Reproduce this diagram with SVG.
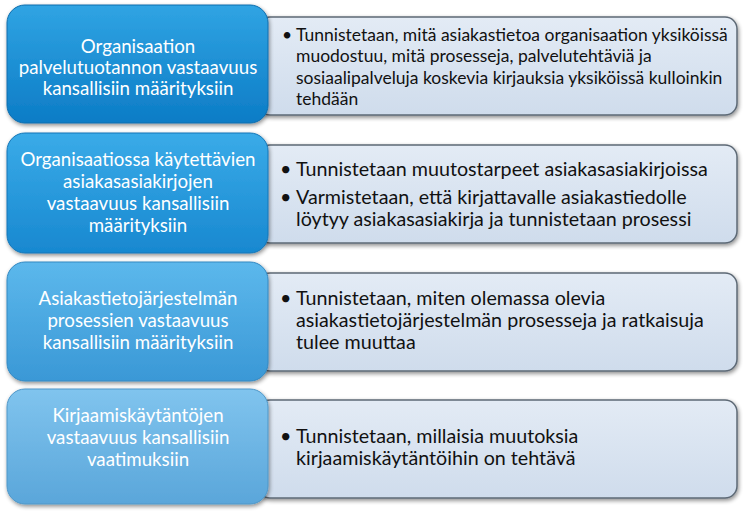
<svg xmlns="http://www.w3.org/2000/svg" width="744" height="515" viewBox="0 0 744 515">
<defs>
<style>
.lt{font-family:Lato,"Liberation Sans",sans-serif;font-size:18.7px;fill:#ffffff;text-anchor:middle}
.rt{font-family:Lato,"Liberation Sans",sans-serif;font-size:19.7px;fill:#111111}
.r1{font-size:17.5px}
.rb{fill:url(#gr);stroke:#5d6975;stroke-width:1.5}
.bs{stroke-width:1}
</style>
<linearGradient id="gr" x1="0" y1="0" x2="0" y2="1">
<stop offset="0" stop-color="#e3ebf5"/>
<stop offset="1" stop-color="#cfdcec"/>
</linearGradient>
<linearGradient id="b1" x1="0" y1="0" x2="0" y2="1">
<stop offset="0" stop-color="#30a4e3"/>
<stop offset="1" stop-color="#0c7cc6"/>
</linearGradient>
<linearGradient id="b2" x1="0" y1="0" x2="0" y2="1">
<stop offset="0" stop-color="#3aabe8"/>
<stop offset="1" stop-color="#1888d0"/>
</linearGradient>
<linearGradient id="b3" x1="0" y1="0" x2="0" y2="1">
<stop offset="0" stop-color="#5cb8ec"/>
<stop offset="1" stop-color="#3a98d6"/>
</linearGradient>
<linearGradient id="b4" x1="0" y1="0" x2="0" y2="1">
<stop offset="0" stop-color="#80c4ee"/>
<stop offset="1" stop-color="#5aa6da"/>
</linearGradient>
<filter id="sh" x="-10%" y="-10%" width="120%" height="130%">
<feGaussianBlur in="SourceAlpha" stdDeviation="2"/>
<feOffset dx="1" dy="2" result="o"/>
<feComponentTransfer><feFuncA type="linear" slope="0.45"/></feComponentTransfer>
<feMerge><feMergeNode/><feMergeNode in="SourceGraphic"/></feMerge>
</filter>
</defs>
<rect width="744" height="515" fill="#ffffff"/>

<g id="row1-detail">
<rect class="rb" x="258" y="17" width="479" height="98" rx="12" filter="url(#sh)"/>
<text class="rt r1" x="282" y="41">•</text>
<text class="rt r1" x="296" y="41">Tunnistetaan, mitä asiakastietoa organisaation yksiköissä</text>
<text class="rt r1" x="296" y="62">muodostuu, mitä prosesseja, palvelutehtäviä ja</text>
<text class="rt r1" x="296" y="84">sosiaalipalveluja koskevia kirjauksia yksiköissä kulloinkin</text>
<text class="rt r1" x="296" y="105">tehdään</text>
</g>
<g id="row2-detail">
<rect class="rb" x="258" y="145" width="479" height="98" rx="12" filter="url(#sh)"/>
<text class="rt" x="280" y="176">•</text>
<text class="rt" x="296" y="176">Tunnistetaan muutostarpeet asiakasasiakirjoissa</text>
<text class="rt" x="280" y="204">•</text>
<text class="rt" x="296" y="204">Varmistetaan, että kirjattavalle asiakastiedolle</text>
<text class="rt" x="296" y="226">löytyy asiakasasiakirja ja tunnistetaan prosessi</text>
</g>
<g id="row3-detail">
<rect class="rb" x="258" y="273" width="479" height="98" rx="12" filter="url(#sh)"/>
<text class="rt" x="280" y="305">•</text>
<text class="rt" x="296" y="305">Tunnistetaan, miten olemassa olevia</text>
<text class="rt" x="296" y="327">asiakastietojärjestelmän prosesseja ja ratkaisuja</text>
<text class="rt" x="296" y="349">tulee muuttaa</text>
</g>
<g id="row4-detail">
<rect class="rb" x="258" y="400" width="479" height="98" rx="12" filter="url(#sh)"/>
<text class="rt" x="280" y="443">•</text>
<text class="rt" x="296" y="443">Tunnistetaan, millaisia muutoksia</text>
<text class="rt" x="296" y="465">kirjaamiskäytäntöihin on tehtävä</text>
</g>

<g id="row1-title">
<rect x="7" y="5" width="261" height="118" rx="18" fill="url(#b1)" stroke="#0f6eae" class="bs" filter="url(#sh)"/>
<text class="lt" x="138" y="53">Organisaation</text>
<text class="lt" x="138" y="74">palvelutuotannon vastaavuus</text>
<text class="lt" x="138" y="95">kansallisiin määrityksiin</text>
</g>
<g id="row2-title">
<rect x="7" y="133" width="261" height="120" rx="18" fill="url(#b2)" stroke="#1577b8" class="bs" filter="url(#sh)"/>
<text class="lt" x="138" y="166">Organisaatiossa käytettävien</text>
<text class="lt" x="138" y="188">asiakasasiakirjojen</text>
<text class="lt" x="138" y="210">vastaavuus kansallisiin</text>
<text class="lt" x="138" y="232">määrityksiin</text>
</g>
<g id="row3-title">
<rect x="7" y="262" width="261" height="119" rx="18" fill="url(#b3)" stroke="#3489c2" class="bs" filter="url(#sh)"/>
<text class="lt" x="138" y="305">Asiakastietojärjestelmän</text>
<text class="lt" x="138" y="327">prosessien vastaavuus</text>
<text class="lt" x="138" y="349">kansallisiin määrityksiin</text>
</g>
<g id="row4-title">
<rect x="7" y="389" width="261" height="115" rx="18" fill="url(#b4)" stroke="#4f97c8" class="bs" filter="url(#sh)"/>
<text class="lt" x="138" y="422">Kirjaamiskäytäntöjen</text>
<text class="lt" x="138" y="444">vastaavuus kansallisiin</text>
<text class="lt" x="138" y="466">vaatimuksiin</text>
</g>
<g id="connectors"/>
</svg>
